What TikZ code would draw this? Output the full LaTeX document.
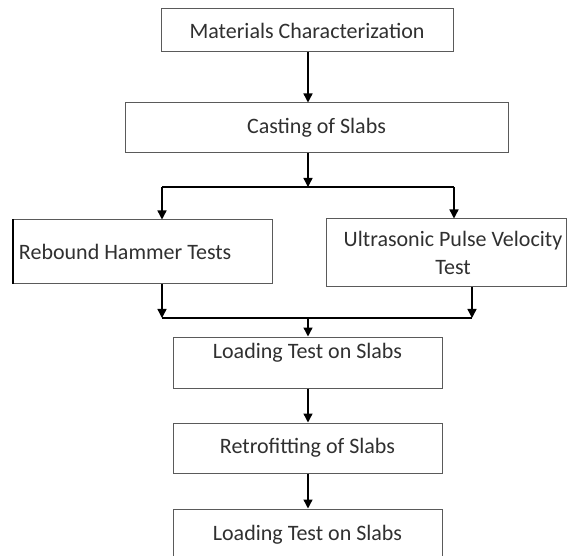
\documentclass[tikz,border=0pt]{standalone}
\usepackage{fontspec}
\setmainfont{Carlito}
\usetikzlibrary{calc,arrows.meta}
\definecolor{boxline}{HTML}{5A5A5A}
\definecolor{boxtext}{HTML}{303030}
\tikzstyle{box} = [draw=boxline, line width=1pt, shape=rectangle, fill=white, text=boxtext, inner sep=0pt, align=center, font=\fontsize{22}{28}\selectfont]
\tikzstyle{flow} = [line width=1.4pt, black]

\begin{document}
\begin{tikzpicture}[x=1pt, y=-1pt, >={Triangle[length=9pt,width=9pt]}]
    \useasboundingbox (0,0) rectangle (568,556);
    \draw (307,30.5) node[box, minimum width=292pt, minimum height=43pt] (mat) {Materials Characterization};
    \draw (316.5,128) node[box, minimum width=383pt, minimum height=50pt] (cast) {Casting of Slabs};
    \draw (142.5,252) node[box, minimum width=259pt, minimum height=64pt, text width=247pt, align=flush left] (reb) {Rebound Hammer Tests};
    \draw (446,253) node[box, minimum width=240pt, minimum height=68pt, text width=240pt, align=flush center] (ultra) {\hspace*{14pt}Ultrasonic Pulse Velocity\\\hspace*{14pt}Test};
    \draw (307.5,362.5) node[box, minimum width=269pt, minimum height=51pt, text depth=24pt] (load) {Loading Test on Slabs};
    \draw (307.5,448) node[box, minimum width=269pt, minimum height=50pt] (retro) {Retrofitting of Slabs};
    \draw (307.5,534.5) node[box, minimum width=269pt, minimum height=51pt] (reload) {Loading Test on Slabs};
    \draw[line width=2pt, black] (reb.north west) -- (reb.south west);
    % branch and join points
    \coordinate (split) at (308,187);
    \coordinate (lsplit) at (162,187);
    \coordinate (rsplit) at (454,187);
    \coordinate (join) at (308,318);
    \coordinate (ljoin) at (162,318);
    \coordinate (rjoin) at (472,318);
    \draw[flow, ->] (mat.south -| split) -- (split |- cast.north);
    \draw[flow, ->] (cast.south -| split) -- (split);
    \draw[flow] (lsplit) -- (rsplit);
    \draw[flow, ->] (lsplit) -- (lsplit |- reb.north);
    \draw[flow, ->] (rsplit) -- (rsplit |- ultra.north);
    \draw[flow, ->] (reb.south -| ljoin) -- (ljoin);
    \draw[flow, ->] (ultra.south -| rjoin) -- (rjoin);
    \draw[flow] (ljoin) -- (rjoin);
    \draw[flow, ->] (join) -- (join |- load.north);
    \draw[flow, ->] (load.south -| join) -- (join |- retro.north);
    \draw[flow, ->] (retro.south -| join) -- (join |- reload.north);
\end{tikzpicture}
\end{document}
